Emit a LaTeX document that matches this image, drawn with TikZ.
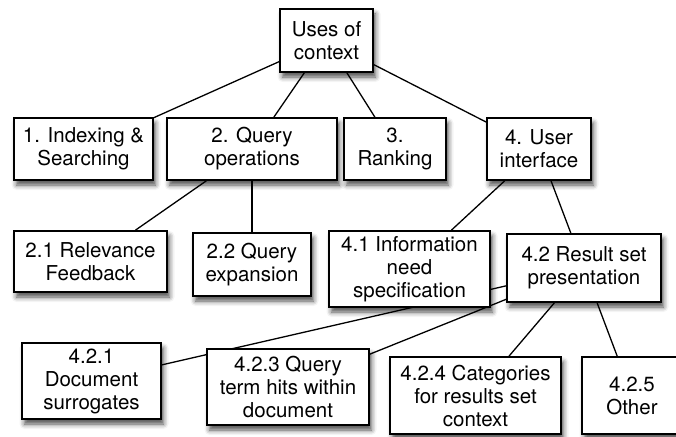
\documentclass[tikz,border=0pt]{standalone}
\usepackage{fontspec}
\setmainfont{TeX Gyre Heros}
\usetikzlibrary{shadows.blur,backgrounds}

\tikzset{
  box/.style={draw=black, line width=1.7pt, fill=white, align=center,
    inner sep=0pt, font=\fontsize{20.5}{23}\selectfont,
    blur shadow={shadow xshift=2.5pt, shadow yshift=-5pt,
      shadow blur radius=5pt, shadow opacity=70}},
  link/.style={draw=black, line width=1.3pt}
}

\begin{document}
\begin{tikzpicture}[x=1pt, y=-1pt]
  \useasboundingbox (0,0) rectangle (676,436);

  % top level
  \node[box, minimum width=93pt, minimum height=63pt] (root) at (326.5,40.5) {Uses of\\context};

  % first level
  \node[box, minimum width=139pt, minimum height=62pt] (n1) at (83.5,149) {1. Indexing \&\\Searching};
  \node[box, minimum width=170pt, minimum height=62pt] (n2) at (252,149) {2. Query\\operations};
  \node[box, minimum width=102pt, minimum height=62pt] (n3) at (395,149) {3.\\Ranking};
  \node[box, minimum width=104pt, minimum height=62pt] (n4) at (539,149) {4. User\\interface};

  % second level
  \node[box, minimum width=153pt, minimum height=61pt] (n21) at (90.5,261.5) {2.1 Relevance\\Feedback};
  \node[box, minimum width=118pt, minimum height=63pt] (n22) at (252,264.5) {2.2 Query\\expansion};
  \node[box, minimum width=161pt, minimum height=76pt] (n41) at (409.5,269) {4.1 Information\\need\\specification};
  \node[box, minimum width=154pt, minimum height=68pt] (n42) at (584,268) {4.2 Result set\\presentation};

  % third level
  \node[box, minimum width=139pt, minimum height=76pt] (n421) at (91.5,381) {4.2.1\\Document\\surrogates};
  \node[box, minimum width=162pt, minimum height=76pt] (n423) at (288,387) {4.2.3 Query\\term hits within\\document};
  \node[box, minimum width=171pt, minimum height=77pt] (n424) at (475.5,395.5) {4.2.4 Categories\\for results set\\context};
  \node[box, minimum width=100pt, minimum height=77pt] (n425) at (632,395.5) {4.2.5\\Other};

  % connectors, kept behind the boxes
  \begin{scope}[on background layer]
    \draw[link] (root) -- (n1);
    \draw[link] (root) -- (n2);
    \draw[link] (root) -- (n3);
    \draw[link] (root) -- (n4);
    \draw[link] (n2) -- (n21);
    \draw[link] (n2) -- (n22);
    \draw[link] (n4) -- (n41);
    \draw[link] (n4) -- (n42);
    \draw[link] (n42) -- (n421);
    \draw[link] (n42) -- (n423);
    \draw[link] (n42) -- (n424);
    \draw[link] (n42) -- (n425);
  \end{scope}
\end{tikzpicture}
\end{document}
